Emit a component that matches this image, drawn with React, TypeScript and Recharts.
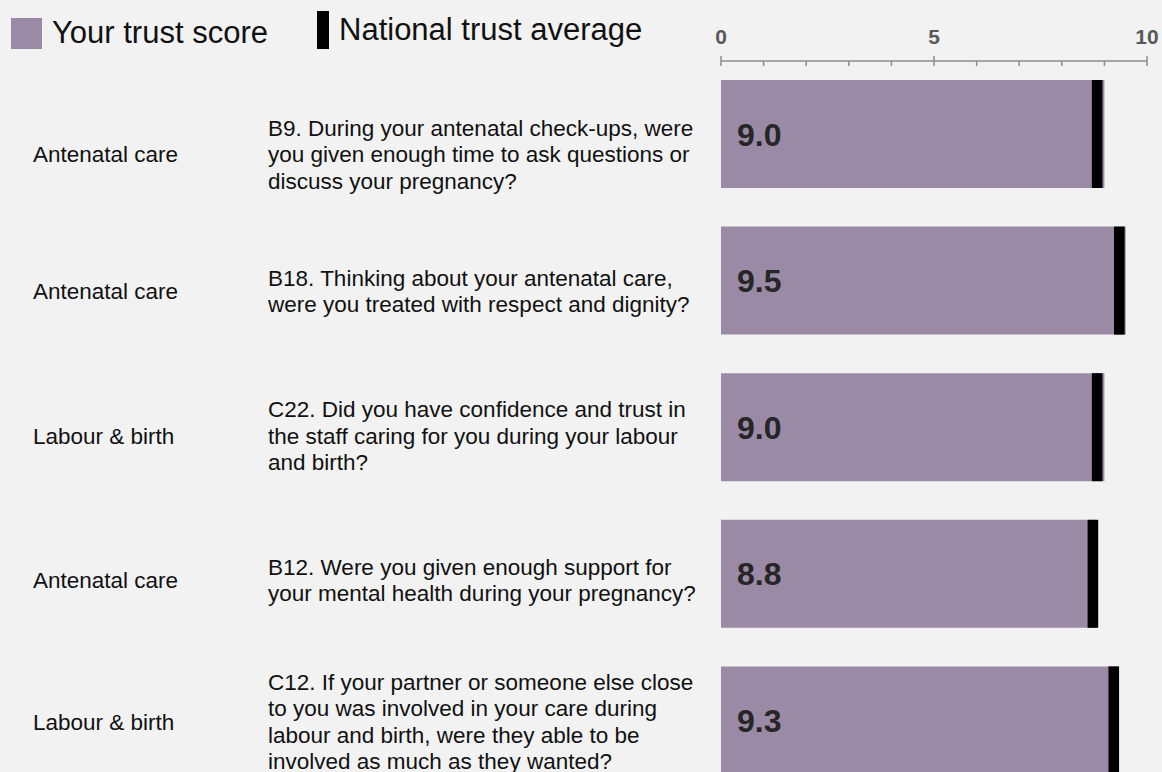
import React from 'react';
import { BarChart, Bar, XAxis, YAxis, LabelList } from 'recharts';

const questionIds = ['B9', 'B18', 'C22', 'B12', 'C12'];
const sections = ['Antenatal care', 'Antenatal care', 'Labour & birth', 'Antenatal care', 'Labour & birth'];
const questionLines = [
  ['B9. During your antenatal check-ups, were', 'you given enough time to ask questions or', 'discuss your pregnancy?'],
  ['B18. Thinking about your antenatal care,', 'were you treated with respect and dignity?'],
  ['C22. Did you have confidence and trust in', 'the staff caring for you during your labour', 'and birth?'],
  ['B12. Were you given enough support for', 'your mental health during your pregnancy?'],
  [
    'C12. If your partner or someone else close',
    'to you was involved in your care during',
    'labour and birth, were they able to be',
    'involved as much as they wanted?',
  ],
];
const trustScores = [9.0, 9.5, 9.0, 8.8, 9.3];
const nationalAverages = [8.83, 9.35, 8.83, 8.73, 9.22];
const axisTicks = [0, 1, 2, 3, 4, 5, 6, 7, 8, 9, 10];
const labelledTicks = [0, 5, 10];
const legendLabels = ['Your trust score', 'National trust average'];

const FONT = "'Liberation Sans', Arial, sans-serif";
const PURPLE = '#9b8aa6';
// text rows sit a little lower than the bar centres, less so further down
const ROW_BASELINE = [28, 18, 16, 14, 9];
const LINE_STEP = 26.5;

const rows = questionIds.map((id, i) => ({
  id,
  score: trustScores[i],
  average: nationalAverages[i],
}));

const AxisTick = (props: any) => {
  const { x, y, payload } = props;
  const major = labelledTicks.includes(payload.value);
  return (
    <g>
      <line x1={x} x2={x} y1={major ? y - 5 : y} y2={y + 5} stroke="#8c8c8c" strokeWidth={1.5} />
      {major && (
        <text x={x} y={y - 17.5} textAnchor="middle" fontFamily={FONT} fontWeight="bold" fontSize={21} fill="#595959">
          {payload.value}
        </text>
      )}
    </g>
  );
};

const QuestionTick = (props: any) => {
  const { y, index } = props;
  const base = y + ROW_BASELINE[index];
  const lines = questionLines[index];
  const start = base - ((lines.length - 1) * LINE_STEP) / 2;
  return (
    <g fontFamily={FONT} fontSize={22.5} fill="#111">
      <text x={33} y={base}>{sections[index]}</text>
      {lines.map((line, k) => (
        <text key={k} x={268} y={start + k * LINE_STEP}>
          {line}
        </text>
      ))}
    </g>
  );
};

const ValueLabel = (props: any) => {
  const { x, y, height, value } = props;
  return (
    <text x={x + 16} y={y + height / 2 + 11.5} fontFamily={FONT} fontWeight="bold" fontSize={32} fill="#262626">
      {Number(value).toFixed(1)}
    </text>
  );
};

const AverageMarker = (props: any) => {
  const { x, y, width, height } = props;
  return <rect x={x + width - 5.3} y={y} width={10.6} height={height} fill="#000" />;
};

const App: React.FC = () => {
  return (
    <div
      style={{
        position: 'absolute',
        left: 0,
        top: 0,
        width: 1162,
        height: 772,
        overflow: 'hidden',
        background: '#f2f2f2',
      }}
    >
      <BarChart width={1162} height={794} data={rows} layout="vertical" margin={{ top: 0, right: 15, bottom: 0, left: 0 }}>
        <XAxis
          type="number"
          orientation="top"
          domain={[0, 10]}
          ticks={axisTicks}
          interval={0}
          height={61}
          tickSize={0}
          tickMargin={0}
          tickLine={false}
          axisLine={{ stroke: '#8c8c8c', strokeWidth: 1.5 }}
          tick={(p: any) => <AxisTick {...p} />}
        />
        <YAxis
          yAxisId="score"
          type="category"
          dataKey="id"
          width={721}
          interval={0}
          axisLine={false}
          tickLine={false}
          tick={(p: any) => <QuestionTick {...p} />}
        />
        <YAxis yAxisId="avg" type="category" dataKey="id" hide />
        <Bar yAxisId="score" dataKey="score" fill={PURPLE} barSize={108} isAnimationActive={false}>
          <LabelList dataKey="score" content={(p: any) => <ValueLabel {...p} />} />
        </Bar>
        <Bar
          yAxisId="avg"
          dataKey="average"
          barSize={108}
          shape={(p: any) => <AverageMarker {...p} />}
          isAnimationActive={false}
        />
      </BarChart>

      <svg
        width={700}
        height={60}
        style={{ position: 'absolute', left: 0, top: 0, pointerEvents: 'none' }}
        fontFamily={FONT}
        fontSize={31}
        fill="#111"
      >
        <rect x={11} y={18} width={31} height={31} fill={PURPLE} />
        <text x={52} y={43}>{legendLabels[0]}</text>
        <rect x={317} y={11} width={12} height={38} fill="#000" />
        <text x={339} y={40}>{legendLabels[1]}</text>
      </svg>
    </div>
  );
};

export default App;
